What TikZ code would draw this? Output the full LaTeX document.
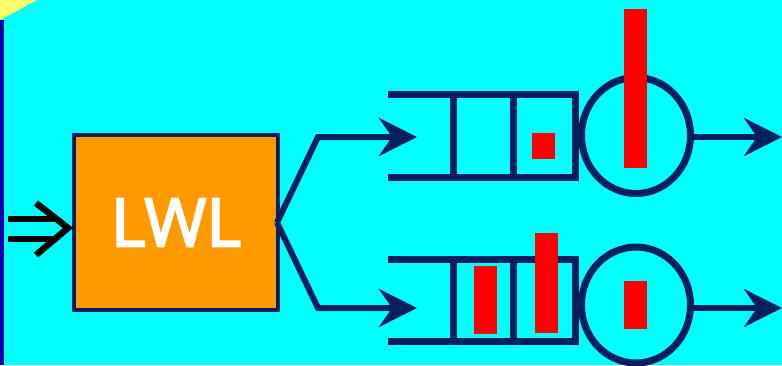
\documentclass[tikz,border=0pt]{standalone}
\usepackage{fontspec}
\newfontfamily\lwlfont[FakeBold=3]{Open Sans}
\usetikzlibrary{arrows.meta,shapes.geometric}
\definecolor{bg}{RGB}{0,255,255}
\definecolor{navy}{RGB}{0,32,96}
\definecolor{orng}{RGB}{255,153,0}
\definecolor{ylw}{RGB}{255,255,102}
\definecolor{edgeblue}{RGB}{0,0,170}
\begin{document}
\begin{tikzpicture}[x=1pt,y=-1pt,
  qline/.style={navy,line width=7pt},
  flow/.style={navy,line width=6pt,-{Stealth[length=38pt,width=38pt,inset=13pt]}},
  bar/.style={fill=red,draw=none},
  srv/.style={ellipse,draw=navy,line width=7pt,inner sep=0pt,minimum width=109pt,minimum height=116pt},
  inarrow/.style={black,line width=6.5pt}]
\useasboundingbox (0,0) rectangle (782,365);
\fill[bg] (0,0) rectangle (782,365);
\fill[edgeblue] (0,20) rectangle (4,365);
\fill[ylw] (0,0) -- (37,0) -- (0,20) -- cycle;

% LWL box
\node[draw=navy,line width=4pt,fill=orng,minimum width=204pt,minimum height=175pt,inner sep=0pt,
      text=white,font=\lwlfont\fontsize{67}{72}\selectfont] (lwl) at (176,222.5) {LWL};

% input double arrow
\coordinate (in) at (68,228);
\draw[inarrow] (8,219) -- (55,219) (8,239) -- (55,239);
\draw[inarrow] (36,203) -- (in) -- (36,255);

% queues
\draw[qline] (388,94.5) -- (575,94.5) -- (575,177.5) -- (388,177.5);
\draw[qline] (453,94.5) -- (453,177.5) (513,94.5) -- (513,177.5);
\draw[qline] (388,259) -- (575,259) -- (575,341) -- (388,341);
\draw[qline] (453,259) -- (453,341) (513,259) -- (513,341);

% servers
\node[srv] (s1) at (636,135.5) {};
\node[srv] (s2) at (636,305) {};

% branch arrows
\coordinate (q1in) at (417,137);
\coordinate (q2in) at (417,308);
\coordinate (b1) at (318,137);
\coordinate (b2) at (318,308);
\draw[flow] ([xshift=-3pt]lwl.east) -- (b1) -- (q1in);
\draw[flow] ([xshift=-3pt]lwl.east) -- (b2) -- (q2in);

% output arrows
\coordinate (o1) at (782,137);
\coordinate (o2) at (782,308);
\draw[flow] (s1.east |- o1) -- (o1);
\draw[flow] (s2.east |- o2) -- (o2);

% jobs
\fill[red] (532,133) rectangle (555,159);
\fill[red] (624,9) rectangle (647,168);
\fill[red] (474,266) rectangle (497,334);
\fill[red] (535,233) rectangle (558,333);
\fill[red] (624,281) rectangle (647,329);
\end{tikzpicture}
\end{document}
